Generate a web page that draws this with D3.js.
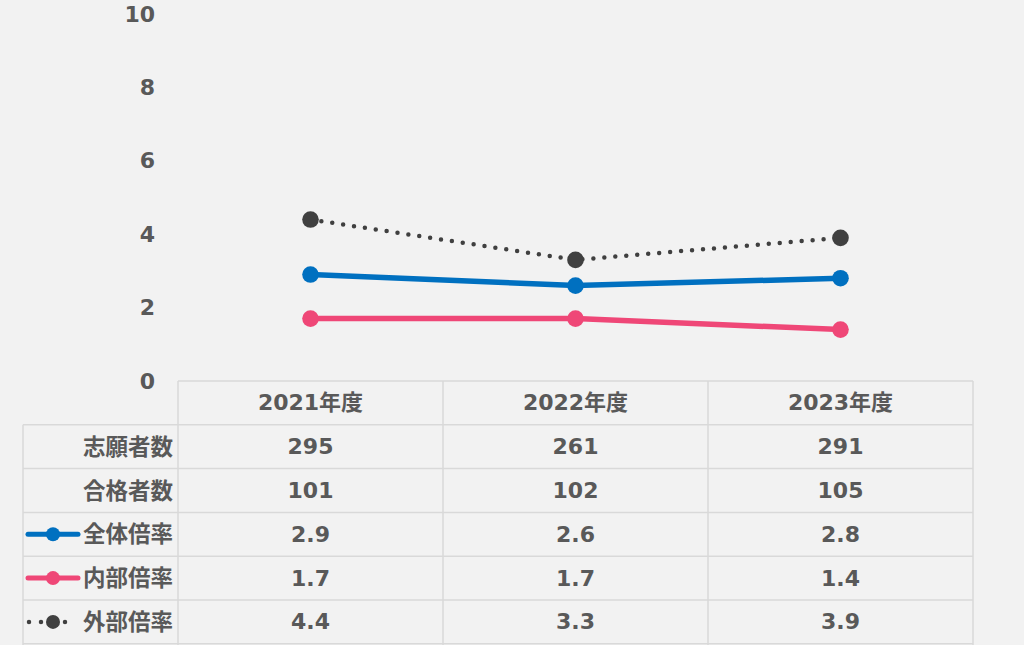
<!DOCTYPE html>
<html><head><meta charset="utf-8">
<script src="https://cdn.jsdelivr.net/npm/d3@7"></script>
<style>
html,body{margin:0;padding:0;background:#f2f2f2;}
svg{display:block;}
text{font-family:"DejaVu Sans","Noto Sans CJK JP",sans-serif;font-weight:bold;fill:#595959;}
</style></head>
<body>
<svg id="c" width="1024" height="645"></svg>
<script>
const categories = ["2021年度","2022年度","2023年度"];
const applicants = [295, 261, 291];
const passed = [101, 102, 105];
const totalRatio = [2.9, 2.6, 2.8];
const internalRatio = [1.7, 1.7, 1.4];
const externalRatio = [4.4, 3.3, 3.9];
const yTicks = [0, 2, 4, 6, 8, 10];

const svg = d3.select("#c");
const W = 1024, H = 645;
const FS = 22;
svg.append("rect").attr("width", W).attr("height", H).attr("fill", "#f2f2f2");

const x = d3.scaleBand().domain(categories).range([178, 973]);
const y = d3.scaleLinear().domain([0, 10]).range([381, 14]);

// y-axis labels
const yAxis = d3.axisLeft(y).tickValues(yTicks).tickSize(0).tickPadding(0).tickFormat(d3.format("d"));
const ga = svg.append("g").attr("transform", "translate(155,0)").call(yAxis);
ga.select(".domain").remove();
ga.selectAll("text").attr("font-size", FS).attr("fill", "#595959")
  .attr("font-family", '"DejaVu Sans","Noto Sans CJK JP",sans-serif').attr("font-weight", "bold");

const series = [
  {name: "全体倍率", values: totalRatio, color: "#0070c0", width: 5.5, dash: null},
  {name: "内部倍率", values: internalRatio, color: "#ef4777", width: 5.5, dash: null},
  {name: "外部倍率", values: externalRatio, color: "#404040", width: 4.5, dash: "0 11"}
];

const line = d3.line().x((d, i) => x(categories[i]) + x.bandwidth() / 2).y(d => y(d));

[series[2], series[0], series[1]].forEach(s => {
  const p = svg.append("path").datum(s.values).attr("d", line)
    .attr("fill", "none").attr("stroke", s.color).attr("stroke-width", s.width)
    .attr("stroke-linecap", "round");
  if (s.dash) p.attr("stroke-dasharray", s.dash);
  svg.selectAll(null).data(s.values).enter().append("circle")
    .attr("cx", (d, i) => x(categories[i]) + x.bandwidth() / 2)
    .attr("cy", d => y(d)).attr("r", 8.3).attr("fill", s.color);
});

// table
const rowTop = 381, rowH = 43.8;
const rows = [
  {label: "志願者数", values: applicants, fmt: d3.format("d")},
  {label: "合格者数", values: passed, fmt: d3.format("d")},
  {label: "全体倍率", values: totalRatio, fmt: d3.format(".1f"), s: series[0]},
  {label: "内部倍率", values: internalRatio, fmt: d3.format(".1f"), s: series[1]},
  {label: "外部倍率", values: externalRatio, fmt: d3.format(".1f"), s: series[2]}
];
const tbl = svg.append("g");
const gridColor = "#d9d9d9";
const left = 23, right = 973;
tbl.append("line").attr("x1", 178).attr("x2", right).attr("y1", rowTop).attr("y2", rowTop)
  .attr("stroke", gridColor).attr("stroke-width", 1.5);
for (let r = 1; r <= rows.length + 1; r++) {
  const yy = rowTop + r * rowH;
  tbl.append("line").attr("x1", left).attr("x2", right).attr("y1", yy).attr("y2", yy)
    .attr("stroke", gridColor).attr("stroke-width", 1.5);
}
[178, ...categories.map(c => x(c) + x.bandwidth())].forEach(xx => {
  tbl.append("line").attr("x1", xx).attr("x2", xx).attr("y1", rowTop).attr("y2", H + 5)
    .attr("stroke", gridColor).attr("stroke-width", 1.5);
});
tbl.append("line").attr("x1", left).attr("x2", left).attr("y1", rowTop + rowH).attr("y2", H + 5)
  .attr("stroke", gridColor).attr("stroke-width", 1.5);

categories.forEach(c => {
  tbl.append("text").attr("x", x(c) + x.bandwidth() / 2).attr("y", rowTop + rowH / 2)
    .attr("text-anchor", "middle").attr("dominant-baseline", "central")
    .attr("font-size", FS).text(c);
});
rows.forEach((row, r) => {
  const cy = rowTop + (r + 1.5) * rowH;
  tbl.append("text").attr("x", 173).attr("y", cy).attr("text-anchor", "end")
    .attr("dominant-baseline", "central").attr("font-size", 22.5)
    .attr("font-family", '"Noto Sans CJK JP",sans-serif').text(row.label);
  row.values.forEach((v, i) => {
    tbl.append("text").attr("x", x(categories[i]) + x.bandwidth() / 2).attr("y", cy)
      .attr("text-anchor", "middle").attr("dominant-baseline", "central")
      .attr("font-size", FS).text(row.fmt(v));
  });
  if (row.s) {
    const s = row.s;
    const p = tbl.append("line").attr("x1", 28).attr("x2", 78).attr("y1", cy).attr("y2", cy)
      .attr("stroke", s.color).attr("stroke-width", s.dash ? 4.5 : 5).attr("stroke-linecap", "round");
    if (s.dash) p.attr("stroke-dasharray", "0 12").attr("x1", 29).attr("x2", 77);
    tbl.append("circle").attr("cx", 53).attr("cy", cy).attr("r", 7).attr("fill", s.color);
  }
});
</script>
</body></html>
